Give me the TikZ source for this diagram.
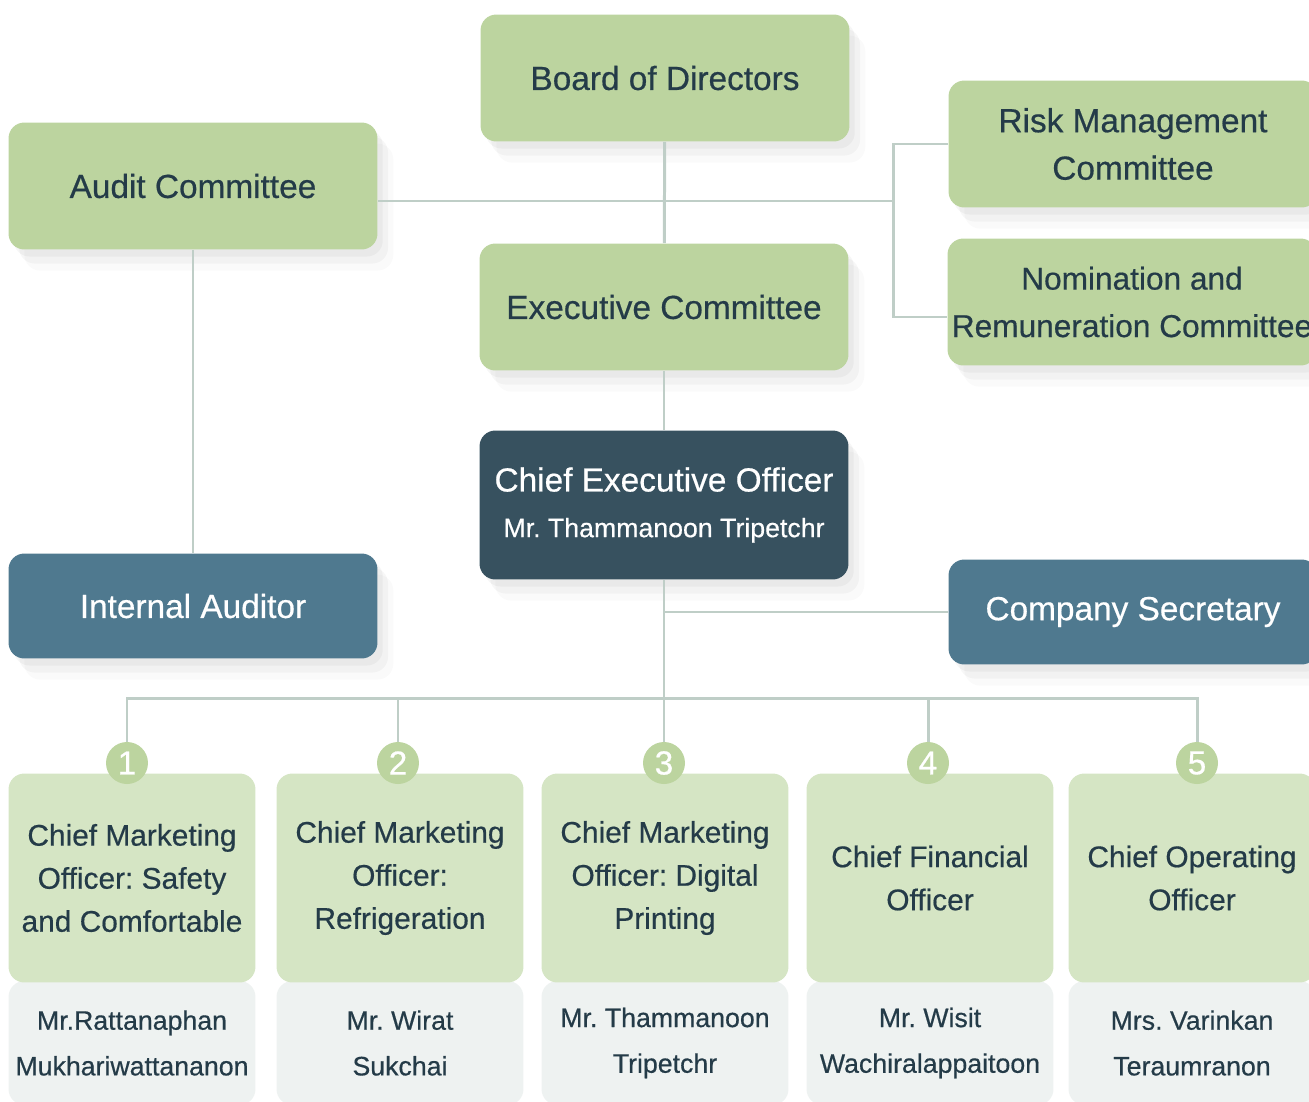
\documentclass[tikz,border=0pt]{standalone}
\usepackage{fontspec}
\setmainfont{Liberation Sans}[FakeBold=0.5]
\usetikzlibrary{positioning,shadows,calc}
\definecolor{OrgGreen}{HTML}{BCD49F}
\definecolor{OrgPale}{HTML}{D5E5C4}
\definecolor{OrgGrey}{HTML}{EEF2F1}
\definecolor{OrgInk}{HTML}{243B48}
\definecolor{OrgNavy}{HTML}{37515F}
\definecolor{OrgSteel}{HTML}{4F798F}
\definecolor{OrgLine}{HTML}{BFCEC7}
\newcommand{\bigfont}{\fontsize{19}{27}\selectfont}
\frenchspacing

\begin{document}
\begin{tikzpicture}[
    x=0.02cm, y=-0.02cm,
    soft/.style={drop shadow={shadow xshift=3pt,shadow yshift=-4pt,opacity=0.035,fill=black},
                 drop shadow={shadow xshift=6pt,shadow yshift=-8pt,opacity=0.03,fill=black},
                 drop shadow={shadow xshift=9pt,shadow yshift=-12pt,opacity=0.02,fill=black}},
    board/.style={soft,rounded corners=9pt,fill=OrgGreen,text=OrgInk,minimum width=7.38cm,minimum height=2.54cm,align=center,font=\bigfont},
    chief/.style={soft,rounded corners=9pt,fill=OrgNavy,text=white,minimum width=7.38cm,minimum height=2.98cm,align=center,font=\fontsize{19}{26}\selectfont},
    staff/.style={soft,rounded corners=9pt,fill=OrgSteel,text=white,minimum width=7.38cm,minimum height=2.1cm,align=center,font=\bigfont},
    card/.style={rounded corners=9pt,fill=OrgPale,text=OrgInk,minimum width=4.94cm,minimum height=4.18cm,align=center,font=\fontsize{17}{24.5}\selectfont},
    namecard/.style={rounded corners=9pt,fill=OrgGrey,text=OrgInk,minimum width=4.94cm,minimum height=2.48cm,align=center,font=\fontsize{15.2}{26}\selectfont},
    badge/.style={circle,fill=OrgGreen,text=white,minimum size=0.84cm,inner sep=0pt,font=\bigfont},
    link/.style={OrgLine,line width=1.7pt}
  ]
    \useasboundingbox (0,0) rectangle (1309,1102);
    \clip (0,0) rectangle (1309,1102);

    % board level
    \node[board] (board) at (665,78) {Board of Directors};
    \node[board] (audit) at (193,186) {Audit Committee};
    \node[board] (exec) at (664,307) {Executive Committee};
    \node[board] (risk) at (1133,144) {Risk Management\\Committee};
    \node[board,font=\fontsize{18}{27}\selectfont] (nom) at (1132,302)
      {Nomination and\\\makebox[0pt]{Remuneration Committee}};
    \coordinate (hub) at (893,201);
    \coordinate (hubbot) at (893,317);

    % management
    \node[chief] (ceo) at (664,505) {Chief Executive Officer\\{\fontsize{15.2}{20}\selectfont Mr. Thammanoon Tripetchr}};
    \node[staff] (intaud) at (193,606) {Internal Auditor};
    \node[staff] (secretary) at (1133,612) {Company Secretary};
    \coordinate (bus) at (664,698);

    \draw[link] (board) -- (exec);
    \draw[link] (audit.east |- hub) -- (hub);
    \draw[link] (risk.west) -| (hub) |- (nom.west |- hubbot);
    \draw[link] (audit) -- (intaud);
    \draw[link] (exec) -- (ceo);
    \draw[link] (ceo) -- (bus);
    \draw[link] (secretary.west) -- (secretary.west -| ceo.south);

    % officers
    \foreach \i/\x/\bx/\title/\name in {
        1/132/127/{Chief Marketing\\Officer: Safety\\and Comfortable}/{Mr.Rattanaphan\\Mukhariwattananon},
        2/400/398/{Chief Marketing\\Officer:\\Refrigeration}/{Mr. Wirat\\Sukchai},
        3/665/664/{Chief Marketing\\Officer: Digital\\Printing}/{Mr. Thammanoon\\Tripetchr},
        4/930/928/{Chief Financial\\Officer}/{Mr. Wisit\\Wachiralappaitoon},
        5/1192/1197/{Chief Operating\\Officer}/{Mrs. Varinkan\\Teraumranon}} {
      \node[namecard] (who\i) at (\x,1043) {\name};
      \node[card] (job\i) at (\x,878) {\title};
      \node[badge] (n\i) at (\bx,763) {\i};
      \draw[link] (n\i) |- (bus);
    }
  \end{tikzpicture}
\end{document}
